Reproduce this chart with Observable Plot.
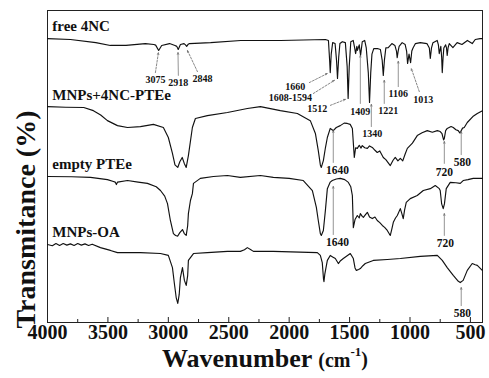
<!DOCTYPE html>
<html><head><meta charset="utf-8">
<script src="https://cdn.jsdelivr.net/npm/d3@7"></script>
<script src="https://cdn.jsdelivr.net/npm/@observablehq/plot@0.6"></script>
<style>body{margin:0;background:#fff;} #chart{width:489px;height:378px;}</style>
</head><body><div id="chart"></div>
<script>
// ---- Data: [wavenumber (cm-1), transmittance (stacked, %)] ----
const free4NC = [[4000,91.0],[3810,90.7],[3600,89.7],[3480,88.8],[3350,88.8],[3190,89.4],[3120,89.1],[3105,88.9],[3080,87.2],[3055,88.8],[2990,89.4],[2945,88.8],[2930,88.5],[2918,87.5],[2900,89.1],[2870,89.4],[2858,89.0],[2848,88.5],[2835,89.2],[2825,89.4],[2650,89.7],[2400,90.4],[2070,90.4],[1700,90.7],[1675,90.4],[1665,84],[1660,80.1],[1652,86],[1640,89.7],[1620,89.4],[1608,84],[1600,78.2],[1590,85],[1580,89.4],[1560,90.0],[1535,89.7],[1520,82],[1512,71.8],[1503,82],[1490,90.0],[1470,90.4],[1458,88],[1450,86.2],[1440,88.5],[1435,87.2],[1420,89.0],[1409,85.6],[1395,90.0],[1375,90.4],[1362,88.0],[1345,80],[1335,70.5],[1325,80],[1315,86.0],[1300,87.8],[1270,87.8],[1245,87.5],[1230,84],[1221,79.2],[1212,84],[1200,88.0],[1180,88.1],[1150,89.4],[1125,88.8],[1112,87],[1106,84.9],[1098,87],[1090,88.5],[1065,89.7],[1040,89.1],[1028,87],[1020,83.0],[1008,86],[995,83.3],[985,87],[975,88],[955,89.4],[915,89.7],[860,89.4],[840,88],[832,84.6],[822,88],[810,89.7],[775,90.4],[765,89],[758,86.2],[745,88.5],[738,85],[733,80.1],[726,85],[720,88],[705,89],[698,88],[692,85.6],[685,88],[675,89.4],[645,88.1],[610,89.7],[570,89.1],[525,90.4],[485,89.4],[460,90.7],[420,91.0],[400,91.0]];

const mnps4NCPTEe = [[4000,69.2],[3850,69.0],[3700,68.9],[3620,67.9],[3560,66.5],[3504,64.7],[3421,63.1],[3338,62.5],[3231,62.8],[3123,63.5],[3041,62.5],[3000,59.3],[2966,54.2],[2945,50.5],[2922,49.7],[2905,51.5],[2885,52.9],[2868,51],[2852,49.7],[2834,53.5],[2801,62.5],[2776,65.4],[2677,66.3],[2511,67.3],[2346,68.6],[2238,69.2],[2073,67.9],[1932,67.0],[1825,64.7],[1783,60.6],[1759,55.1],[1742,50.5],[1734,49.7],[1717,51.9],[1700,56],[1684,59.3],[1660,62.2],[1645,61.8],[1635,61.5],[1610,62.5],[1577,63.1],[1545,63.9],[1519,63.8],[1495,63.5],[1477,62.2],[1468,57],[1461,52.9],[1450,56],[1436,55.8],[1420,56.8],[1405,55.9],[1395,56.7],[1375,56.0],[1353,55.8],[1335,56.6],[1312,56.1],[1290,55.2],[1271,54.5],[1250,55.0],[1221,52.9],[1200,52.2],[1163,50.3],[1140,52.0],[1122,52.9],[1100,51.8],[1080,52.6],[1060,51.8],[1040,54.0],[1022,55.8],[980,57.5],[940,59.9],[900,60.8],[857,61.5],[815,61.0],[774,61.5],[750,61.2],[735,60.5],[722,58.5],[716,59.0],[705,61.5],[692,62.2],[660,62.8],[642,62.5],[620,61.8],[601,61.5],[588,60.8],[580,61.2],[565,62.3],[551,62.5],[526,64.1],[480,66],[443,67.0],[400,67.9]];

const emptyPTEe = [[4000,46.8],[3800,46.7],[3644,46.5],[3504,45.8],[3454,45.2],[3440,45.0],[3430,44.2],[3420,45.0],[3338,45.5],[3250,45.0],[3173,44.6],[3100,43.5],[3065,42.3],[3030,40.5],[3007,38.1],[2983,32.7],[2958,28.5],[2940,27.9],[2922,27.7],[2905,28.8],[2883,29.8],[2868,28.5],[2852,27.9],[2840,31],[2834,34.9],[2817,39.1],[2801,41.3],[2792,44.6],[2735,46.2],[2627,46.8],[2511,47.1],[2404,46.5],[2238,47.1],[2131,46.5],[2000,46.2],[1883,45.5],[1808,42.3],[1775,36.9],[1759,32.7],[1742,28.5],[1734,27.9],[1717,29.5],[1700,36],[1684,42.9],[1660,45.0],[1643,45.5],[1610,46.0],[1577,46.2],[1540,45.8],[1510,44.9],[1490,43.5],[1477,40.7],[1469,30.4],[1455,33.0],[1436,34.3],[1420,33.5],[1411,34.9],[1395,34.0],[1386,33.7],[1370,34.5],[1353,35.3],[1335,33.8],[1312,33.3],[1290,33.8],[1271,32.7],[1250,32.0],[1229,31.1],[1210,30.5],[1188,29.5],[1163,27.9],[1150,30],[1138,32.1],[1120,33.5],[1105,34.3],[1080,36.5],[1068,35],[1056,33.3],[1045,36],[1031,38.5],[998,39.7],[940,40.7],[890,42.3],[832,42.9],[791,43.9],[760,43.0],[750,42.3],[738,38],[725,36.5],[715,38],[700,42.9],[667,44.9],[620,44.8],[584,44.6],[560,45.5],[520,45.8],[477,46.2],[400,46.2]];

const mnpsOA = [[4000,25.0],[3960,24.6],[3930,25.3],[3900,24.7],[3870,25.3],[3840,24.8],[3810,25.2],[3780,24.7],[3750,25.3],[3720,24.8],[3690,25.2],[3660,24.7],[3630,25.1],[3562,24.0],[3479,23.1],[3421,22.4],[3231,22.4],[3065,22.1],[3000,21.5],[2966,17.6],[2950,12.5],[2935,8],[2922,6.1],[2910,9],[2900,14.4],[2883,17.6],[2867,13.5],[2852,11.9],[2840,15],[2834,19.9],[2792,22.1],[2677,22.4],[2511,22.8],[2404,22.8],[2370,23.3],[2346,24.0],[2320,23.4],[2296,22.8],[2131,22.8],[1767,22.4],[1742,21.5],[1726,19.2],[1716,14],[1712,13.1],[1705,15.5],[1684,19.9],[1660,21.5],[1640,21.0],[1618,20.5],[1593,18.9],[1575,19.8],[1552,20.5],[1494,22.1],[1469,20.5],[1455,17.5],[1444,16.7],[1425,17.0],[1411,17.3],[1390,18.2],[1370,18.9],[1304,19.9],[1188,20.2],[1080,20.5],[915,21.2],[774,21.5],[733,19.9],[692,17.6],[642,15.1],[600,13.2],[584,12.8],[560,13.5],[526,16.7],[485,18.9],[460,18.5],[443,18.3],[402,16.7]];

const seriesNames = ["free 4NC", "MNPs+4NC-PTEe", "empty PTEe", "MNPs-OA"];
const seriesData = [free4NC, mnps4NCPTEe, emptyPTEe, mnpsOA];
// trace name label anchor (wavenumber, transmittance)
const nameLabelWn = [3960, 3960, 3960, 3960];
const nameLabelT = [94.9, 72.8, 50.6, 28.8];

// peak annotations
const peakText = ["3075","2918","2848","1660","1608-1594","1512","1409","1221","1340","1106","1013","1640","720","580","1640","720","580"];
const peakWn   = [3107, 2917, 2718, 1949, 1990, 1767, 1411, 1180, 1312, 1097, 890, 1601, 716, 567, 1601, 708, 567];
const peakT    = [77.9, 76.9, 78.2, 75.6, 72.1, 68.6, 67.6, 67.9, 60.6, 73.4, 71.5, 48.7, 48.1, 51.3, 25.6, 25.3, 2.9];
const peakBig  = [0,0,0,0,0,0,0,0,0,0,0,1,1,1,1,1,1];
// arrows: from (x1,y1) to (x2,y2); dashed flag
const arrowX1 = [3107, 2917, 2759, 1833, 1800, 1659, 1411, 1213, 1320, 1097, 923, 1635, 716, 576, 1635, 716, 576];
const arrowY1 = [80.1, 79.2, 80.4, 76.9, 73.4, 69.6, 70.2, 70.2, 62.8, 75.6, 74.0, 51.3, 51.0, 53.8, 28.2, 27.9, 5.4];
const arrowX2 = [3082, 2920, 2842, 1684, 1626, 1535, 1411, 1213, 1320, 1097, 989, 1635, 716, 576, 1635, 716, 576];
const arrowY2 = [86.5, 86.5, 87.2, 79.8, 77.6, 71.5, 85.6, 77.6, 69.9, 83.7, 81.4, 61.5, 58.0, 61.2, 43.6, 34.9, 11.2];
const arrowDashed = [1,0,1,1,1,1,0,0,0,0,1,0,0,0,0,0,0];

const majorTicks = [4000,3500,3000,2500,2000,1500,1000,500];
const minorTicks = [3750,3250,2750,2250,1750,1250,750];
const xTitle = "Wavenumber (cm-1)";
const yTitle = "Transmitance (%)";
const yTitleT = 33; // vertical centre of the y title, in transmittance units

// ---- build tables ----
const rows = [];
seriesData.forEach((pts, i) => pts.forEach(([wn, t]) => rows.push({name: seriesNames[i], wn, t})));
const names = seriesNames.map((n, i) => ({n, wn: nameLabelWn[i], t: nameLabelT[i]}));
const peaks = peakText.map((s, i) => ({s, wn: peakWn[i], t: peakT[i], big: peakBig[i]}));
const arrows = arrowX1.map((x, i) => ({x1: x, y1: arrowY1[i], x2: arrowX2[i], y2: arrowY2[i], d: arrowDashed[i]}));

const serif = "'Liberation Serif','Times New Roman',serif";
const plot = Plot.plot({
  width: 489, height: 378,
  marginLeft: 47, marginRight: 7, marginTop: 10, marginBottom: 56,
  style: {fontFamily: serif, background: "#fff", color: "#111", overflow: "visible"},
  x: {domain: [4000, 400], label: null},
  y: {domain: [0, 100], axis: null},
  marks: [
    Plot.frame({stroke: "#222", strokeWidth: 1}),
    Plot.axisX(majorTicks, {tickSize: -5, tickPadding: 7, fontSize: 20, fontWeight: "bold", label: null, tickFormat: d => String(d), stroke: "#222"}),
    Plot.axisX(minorTicks, {tickSize: -3, tickFormat: () => "", label: null, stroke: "#222"}),
    Plot.line(rows, {x: "wn", y: "t", z: "name", stroke: "#111", strokeWidth: 1.15}),
    Plot.arrow(arrows.filter(a => a.d), {x1: "x1", y1: "y1", x2: "x2", y2: "y2", stroke: "#555", strokeWidth: 0.7, strokeDasharray: "2,1.5", headLength: 4, headAngle: 45}),
    Plot.arrow(arrows.filter(a => !a.d), {x1: "x1", y1: "y1", x2: "x2", y2: "y2", stroke: "#666", strokeWidth: 0.7, headLength: 4, headAngle: 45}),
    Plot.text(peaks.filter(p => !p.big), {x: "wn", y: "t", text: "s", fontSize: 10, fontWeight: "bold", fill: "#111"}),
    Plot.text(peaks.filter(p => p.big), {x: "wn", y: "t", text: "s", fontSize: 11.5, fontWeight: "bold", fill: "#111"}),
    Plot.text(names, {x: "wn", y: "t", text: "n", textAnchor: "start", fontSize: 15, fontWeight: "bold", fill: "#111"}),
    Plot.text([xTitle], {frameAnchor: "bottom", dy: 44, fontSize: 26, fontWeight: "bold", fill: "#111"}),
    Plot.text([yTitle], {frameAnchor: "left", y: () => yTitleT, dx: -21, rotate: -90, textAnchor: "middle", lineAnchor: "middle", fontSize: 28, fontWeight: "bold", fill: "#111"})
  ]
});
// superscript in the x title
d3.select(plot).selectAll("text").filter(function() { return this.textContent === xTitle; }).each(function() {
  const t = d3.select(this);
  t.text(null);
  t.append("tspan").text("Wavenumber ");
  t.append("tspan").attr("font-size", 20).text("(cm");
  t.append("tspan").attr("font-size", 13).attr("dy", "-0.8em").text("-1");
  t.append("tspan").attr("font-size", 20).attr("dy", "0.5em").text(")");
});
document.getElementById("chart").appendChild(plot);
</script>
</body></html>
